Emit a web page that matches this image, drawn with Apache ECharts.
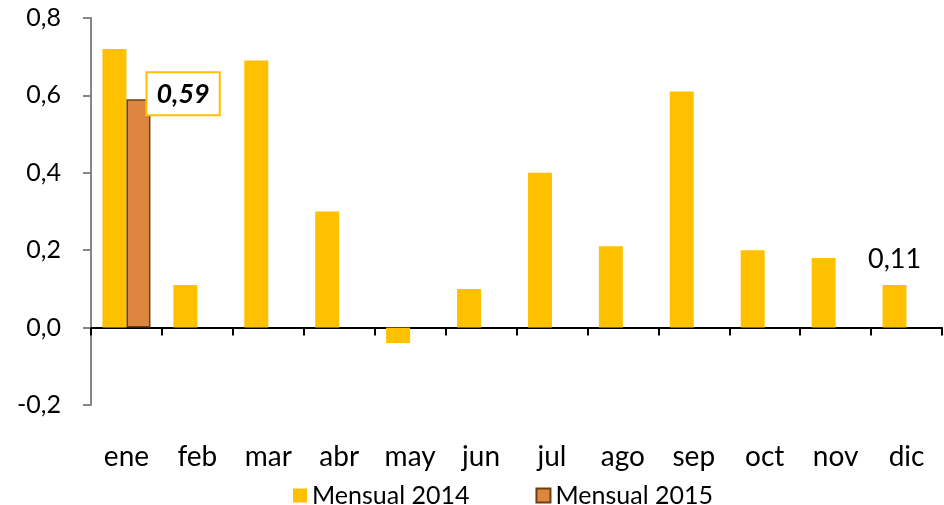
<!DOCTYPE html>
<html>
<head>
<meta charset="utf-8">
<script src="https://cdn.jsdelivr.net/npm/echarts@6/dist/echarts.min.js"></script>
<style>
  html, body { margin: 0; padding: 0; background: #fff; }
  #chart { width: 944px; height: 505px; }
</style>
</head>
<body>
<div id="chart"></div>
<script>
// datos
var meses = ['ene', 'feb', 'mar', 'abr', 'may', 'jun', 'jul', 'ago', 'sep', 'oct', 'nov', 'dic'];
var mensual2014 = [0.72, 0.11, 0.69, 0.30, -0.04, 0.10, 0.40, 0.21, 0.61, 0.20, 0.18, 0.11];
var mensual2015 = [0.59, null, null, null, null, null, null, null, null, null, null, null];
var nombres = ['Mensual 2014', 'Mensual 2015'];

function coma(v, d) {
    return v.toFixed(d).replace('.', ',');
}

var FONT = 'Lato';

var myChart = echarts.init(document.getElementById('chart'));

var datos2014 = mensual2014.map(function (v, i) {
    if (i === mensual2014.length - 1) {
        return {
            value: v,
            label: {
                show: true,
                position: 'top',
                distance: 12,
                fontFamily: FONT,
                fontSize: 27,
                color: '#000',
                formatter: function (p) { return coma(p.value, 2); }
            }
        };
    }
    return v;
});

var datos2015 = mensual2015.map(function (v, i) {
    if (i === 0) {
        return {
            value: v,
            label: {
                show: true,
                position: [21, -26],
                fontFamily: FONT,
                fontSize: 27,
                fontWeight: 'bold',
                fontStyle: 'italic',
                color: '#000',
                backgroundColor: '#fff',
                borderColor: '#FFC000',
                borderWidth: 2,
                padding: [8, 9, 6, 9],
                formatter: function (p) { return coma(p.value, 2); }
            }
        };
    }
    return v;
});

var option = {
    backgroundColor: '#fff',
    animation: false,
    grid: {
        left: 91,
        right: 2,
        top: 18,
        bottom: 100,
        outerBoundsMode: 'none',
        containLabel: false
    },
    legend: {
        left: 288,
        top: 478,
        icon: 'rect',
        itemWidth: 14,
        itemHeight: 14,
        itemGap: 66,
        textStyle: { fontFamily: FONT, fontSize: 25, color: '#000' },
        data: nombres
    },
    xAxis: [
        {
            // eje en el cero, sin etiquetas
            type: 'category',
            data: meses,
            axisLine: { onZero: true, lineStyle: { color: '#000', width: 2 } },
            axisTick: { show: true, length: 8, lineStyle: { color: '#000', width: 2 } },
            axisLabel: { show: false },
            splitLine: { show: false }
        },
        {
            // etiquetas de los meses abajo
            type: 'category',
            data: meses,
            position: 'bottom',
            axisLine: { show: false, onZero: false },
            axisTick: { show: false },
            axisLabel: { show: true, margin: 38, fontFamily: FONT, fontSize: 28, color: '#000' },
            splitLine: { show: false }
        }
    ],
    yAxis: {
        type: 'value',
        min: -0.2,
        max: 0.8,
        interval: 0.2,
        axisLine: { show: true, lineStyle: { color: '#868686', width: 2 } },
        axisTick: { show: true, length: 8, lineStyle: { color: '#868686', width: 2 } },
        axisLabel: {
            margin: 30,
            fontFamily: FONT,
            fontSize: 25,
            color: '#000',
            formatter: function (v) { return coma(v, 1); }
        },
        splitLine: { show: false }
    },
    series: [
        {
            name: nombres[0],
            type: 'bar',
            data: datos2014,
            barWidth: 24,
            barGap: '0%',
            itemStyle: { color: '#FFC000' }
        },
        {
            name: nombres[1],
            type: 'bar',
            data: datos2015,
            barWidth: 24,
            itemStyle: { color: '#DD8640', borderColor: '#6B3F12', borderWidth: 1.5 }
        }
    ]
};

myChart.setOption(option);
</script>
</body>
</html>
